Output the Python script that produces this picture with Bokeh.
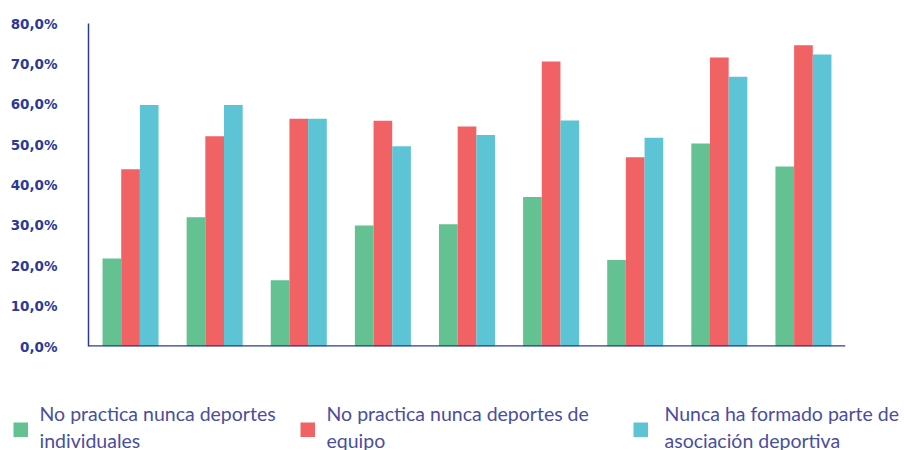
from bokeh.plotting import figure
from bokeh.models import ColumnDataSource, FactorRange, Range1d, FixedTicker, Span
from bokeh.transform import dodge
from bokeh.layouts import column
from bokeh.core.properties import value
from bokeh.embed import file_html
from bokeh.resources import INLINE

categories = ["1", "2", "3", "4", "5", "6", "7", "8", "9"]
individuales = [21.8, 32.0, 16.4, 30.0, 30.3, 37.0, 21.4, 50.3, 44.6]
equipo = [43.9, 52.1, 56.4, 55.9, 54.5, 70.6, 46.9, 71.6, 74.6]
asociacion = [59.8, 59.8, 56.4, 49.6, 52.4, 56.0, 51.7, 66.8, 72.3]
y_ticks = [0, 10, 20, 30, 40, 50, 60, 70, 80]
series_names = [
    ["No practica nunca deportes", "individuales"],
    ["No practica nunca deportes de", "equipo"],
    ["Nunca ha formado parte de", "asociación deportiva"],
]
colors = ["#64C192", "#F06264", "#5CC4D4"]
axis_color = "#2B3A96"
text_color = "#4A4E9E"

src = ColumnDataSource(dict(cat=categories, a=individuales, b=equipo, c=asociacion))

p = figure(x_range=FactorRange(*categories), y_range=Range1d(0, 80),
           width=904, height=360, output_backend="svg", toolbar_location=None,
           min_border_left=88, min_border_right=59, min_border_top=23, min_border_bottom=14)
p.frame_align = False
p.outline_line_color = None
p.xgrid.visible = False
p.ygrid.visible = False

w = 0.222
for key, off, col in zip(["a", "b", "c"], [-w, 0, w], colors):
    p.vbar(x=dodge("cat", off, range=p.x_range), top=key, width=w, source=src,
           fill_color=col, line_color=None)

p.yaxis.ticker = FixedTicker(ticks=y_ticks)
p.yaxis.major_label_overrides = {t: f"{t},0%" for t in y_ticks}
p.yaxis.major_tick_line_color = None
p.yaxis.minor_tick_line_color = None
p.yaxis.axis_line_color = axis_color
p.yaxis.axis_line_width = 1.5
p.yaxis.major_label_text_color = axis_color
p.yaxis.major_label_text_font = "DejaVu Sans"
p.yaxis.major_label_text_font_style = "bold"
p.yaxis.major_label_text_font_size = "13.5px"
p.yaxis.major_label_standoff = 25

p.xaxis.visible = False
p.add_layout(Span(location=0, dimension="width", line_color=axis_color, line_width=2.5))

# legend figure (pixel-like coordinates, y downward)
lg = figure(x_range=Range1d(0, 904), y_range=Range1d(90, 0), width=904, height=90,
            output_backend="svg", toolbar_location=None,
            min_border=0, min_border_left=0, min_border_right=0, min_border_top=0, min_border_bottom=0)
lg.frame_align = False
lg.outline_line_color = None
lg.xaxis.visible = False
lg.yaxis.visible = False
lg.xgrid.visible = False
lg.ygrid.visible = False

sq_x = [20.25, 307.25, 640.25]
tx_x = [39, 326, 664]
lg.rect(x=sq_x, y=[69.25] * 3, width=14.5, height=14.5, fill_color=colors, line_color=None)
for i in range(3):
    lg.text(x=[tx_x[i], tx_x[i]], y=[53, 80], text=series_names[i],
            text_font=value("Lato"), text_font_size="19.5px", text_color=text_color,
            text_baseline="alphabetic", text_align="left")

layout = column(p, lg, spacing=0)
open("out.html", "w").write(file_html(layout, INLINE))
